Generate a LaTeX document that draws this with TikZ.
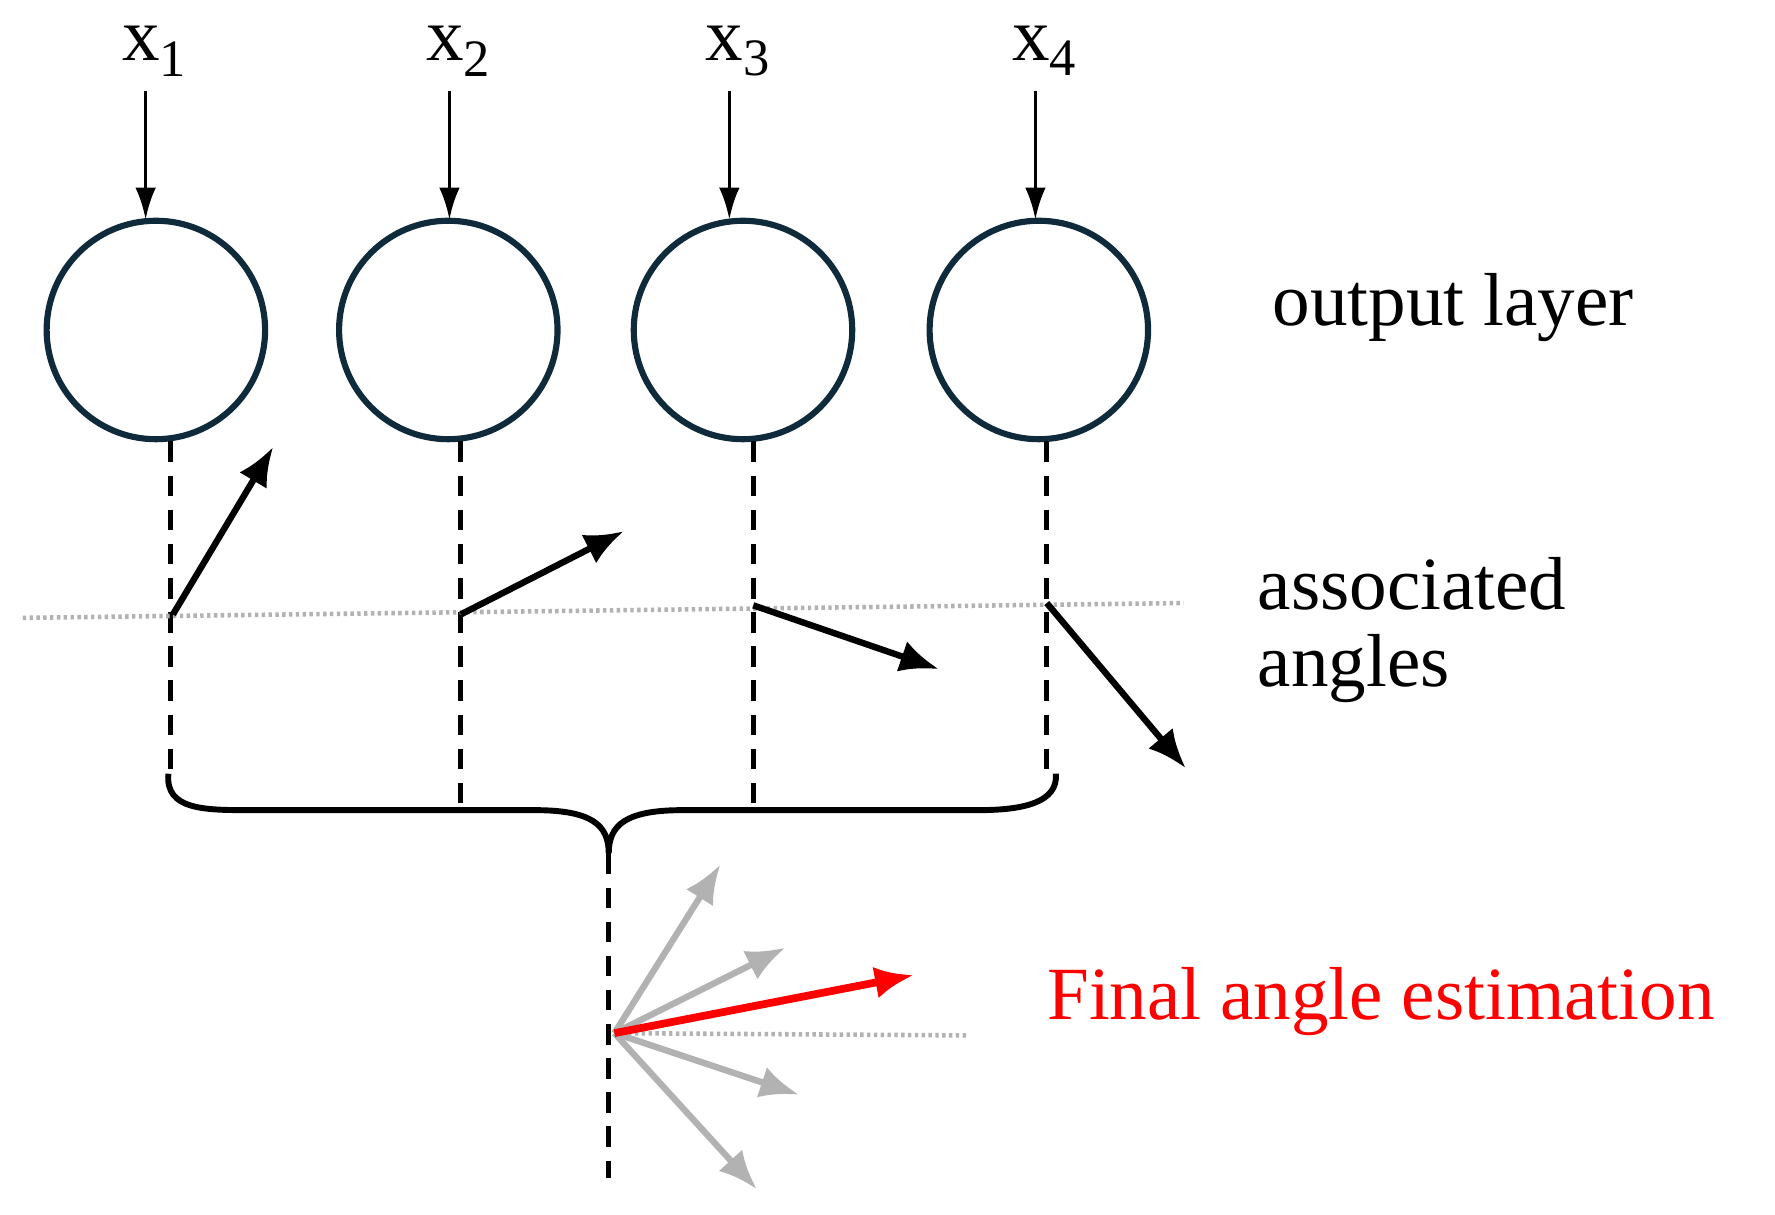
\documentclass[tikz,border=0pt]{standalone}
\usepackage{fontspec}
\setmainfont{Liberation Serif}
\usetikzlibrary{arrows.meta}
\definecolor{navy}{HTML}{0F2A3A}
\begin{document}
\begin{tikzpicture}[x=0.5pt,y=-0.5pt,
  neuron/.style={circle,draw=navy,line width=2.7pt,minimum size=96pt,inner sep=0},
  inarr/.style={line width=1.6pt,-{Latex[length=14pt,width=9pt]}},
  ang/.style={line width=2.8pt,-{Latex[length=17pt,width=14pt]}},
  gang/.style={line width=2.8pt,draw=black!30,-{Latex[length=17pt,width=14pt]}},
  dsh/.style={line width=2.2pt,dash pattern=on 9pt off 6pt},
  dtl/.style={line width=2pt,draw=black!30,dash pattern=on 1.5pt off 1.5pt},
  lbl/.style={font=\fontsize{33}{37}\selectfont,inner sep=0}]
\useasboundingbox (0,0) rectangle (1560,1067);
\foreach \i/\cx/\ax in {1/137/128,2/394/395,3/653/641,4/913/910}{
  \node[neuron] (n\i) at (\cx,290) {};
  \node[lbl] (x\i) at (\ax+8,45) {x\textsubscript{\i}};
  \coordinate (t\i) at (\ax,80);
  \coordinate (b\i) at (\ax,193);
  \draw[inarr] (t\i) -- (b\i);
}
\foreach \i/\dx/\e in {1/150/685,2/405/712,3/662/712,4/920/685}{
  \coordinate (d\i) at (\dx,388);
  \coordinate (e\i) at (\dx,\e);
  \draw[dsh] (d\i) -- (e\i);
}
\coordinate (bt) at (535,750);
\draw[line width=2.6pt] (148,680) .. controls (145,712) and (180,712) .. (220,712) -- (470,712)
  .. controls (520,712) and (535,725) .. (bt) .. controls (535,725) and (550,712) .. (600,712)
  -- (860,712) .. controls (900,712) and (930,705) .. (928,680);
\coordinate (bb) at (535,1035);
\draw[dsh] (bt) -- (bb);
\coordinate (dl) at (20,543); \coordinate (dr) at (1040,530);
\draw[dtl] (dl) -- (dr);
\coordinate (a1) at (152,540); \coordinate (a1e) at (240,393);
\coordinate (a2) at (405,540); \coordinate (a2e) at (548,467);
\coordinate (a3) at (662,532); \coordinate (a3e) at (825,588);
\coordinate (a4) at (920,530); \coordinate (a4e) at (1042,675);
\draw[ang] (a1) -- (a1e); \draw[ang] (a2) -- (a2e);
\draw[ang] (a3) -- (a3e); \draw[ang] (a4) -- (a4e);
\coordinate (o) at (540,908);
\coordinate (oh) at (850,910);
\draw[dtl] (o) -- (oh);
\coordinate (g1) at (633,760); \coordinate (g2) at (690,833);
\coordinate (g3) at (702,962); \coordinate (g4) at (665,1045);
\foreach \g in {g1,g2,g3,g4} \draw[gang] (o) -- (\g);
\coordinate (r) at (803,857);
\draw[ang,red,line width=3.4pt] (o) -- (r);
\node[lbl,anchor=west] (ol) at (1118,270) {output layer};
\node[lbl,anchor=west] (as) at (1105,513) {associated};
\node[lbl,anchor=west] (an) at (1105,588) {angles};
\node[lbl,anchor=west,text=red] (fa) at (920,880) {Final angle estimation};
\end{tikzpicture}
\end{document}
